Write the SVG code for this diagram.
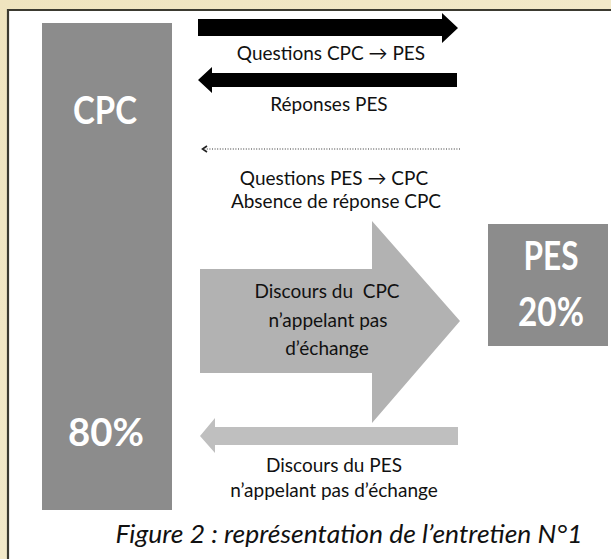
<svg xmlns="http://www.w3.org/2000/svg" width="611" height="559" viewBox="0 0 611 559">
<defs>
<linearGradient id="parch" x1="0" y1="0" x2="1" y2="1">
<stop offset="0" stop-color="#efe4bf"/>
<stop offset="0.5" stop-color="#f2e9c9"/>
<stop offset="1" stop-color="#ebe0b8"/>
</linearGradient>
</defs>
<style>
.node{fill:#8c8c8c}
.big{font-family:Lato,'Open Sans',sans-serif;font-weight:bold;fill:#fff;text-anchor:middle}
.lbl{font-family:Lato,'Open Sans',sans-serif;font-size:19px;fill:#111;text-anchor:middle}
.cap{font-family:Lato,'Open Sans',sans-serif;font-size:26px;font-style:italic;fill:#111;text-anchor:middle}
</style>
<rect x="0" y="0" width="611" height="559" fill="url(#parch)"/>
<rect x="8" y="10" width="603" height="549" fill="#ffffff"/>
<path d="M8,559 V10 H611" fill="none" stroke="#3b3a30" stroke-width="2.2"/>
<g id="node-cpc">
<rect class="node" x="42" y="23" width="130" height="487"/>
<text class="big" x="105" y="124" font-size="38" textLength="64" lengthAdjust="spacingAndGlyphs">CPC</text>
<text class="big" x="106" y="446" font-size="38" textLength="76" lengthAdjust="spacingAndGlyphs">80%</text>
</g>
<g id="node-pes">
<rect class="node" x="488" y="224" width="120" height="122"/>
<text class="big" x="551" y="270" font-size="40" textLength="55" lengthAdjust="spacingAndGlyphs">PES</text>
<text class="big" x="551" y="326" font-size="40" textLength="66" lengthAdjust="spacingAndGlyphs">20%</text>
</g>
<g id="connectors">
<path id="arrow-q-cpc-pes" d="M198,19 H442 V13 L458,28 L442,43 V36 H198 Z" fill="#000"/>
<path id="arrow-rep-pes" d="M457,73 H212 V67 L198,80 L212,93 V87 H457 Z" fill="#000"/>
<g id="arrow-q-pes-cpc">
<line x1="460" y1="149" x2="205" y2="149" stroke="#333" stroke-width="1.2" stroke-dasharray="1 1.6"/>
<path d="M207,146 L202.5,149 L207,152" fill="none" stroke="#222" stroke-width="1.6"/>
</g>
<path id="arrow-discours-cpc" d="M200,269 H372 V221 L460,321 L372,423 V373 H200 Z" fill="#b2b2b2"/>
<path id="arrow-discours-pes" d="M458,427 H215 V418 L200,436 L215,453 V445 H458 Z" fill="#bfbfbf"/>
</g>
<g id="labels">
<text class="lbl" x="331" y="60">Questions CPC → PES</text>
<text class="lbl" x="329" y="111">Réponses PES</text>
<text class="lbl" x="334" y="185">Questions PES → CPC</text>
<text class="lbl" x="336" y="208">Absence de réponse CPC</text>
<text class="lbl" x="327" y="298" xml:space="preserve">Discours du  CPC</text>
<text class="lbl" x="328" y="327">n’appelant pas</text>
<text class="lbl" x="327" y="355">d’échange</text>
<text class="lbl" x="334" y="472">Discours du PES</text>
<text class="lbl" x="334" y="497">n’appelant pas d’échange</text>
</g>
<text class="cap" x="349" y="543" textLength="467" lengthAdjust="spacingAndGlyphs">Figure 2 : représentation de l’entretien N°1</text>
</svg>
